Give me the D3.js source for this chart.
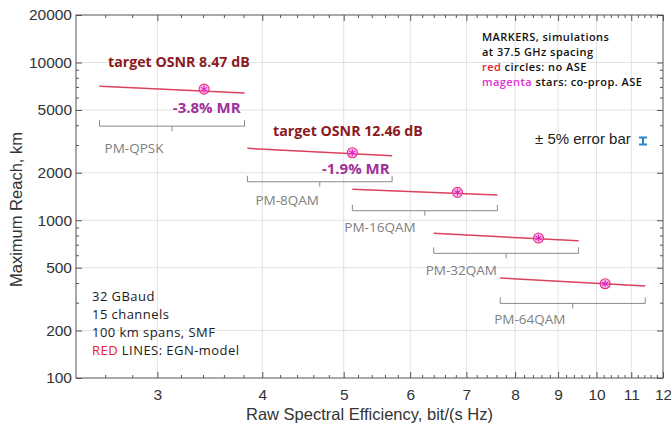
<!DOCTYPE html>
<html><head><meta charset="utf-8">
<script src="https://cdn.jsdelivr.net/npm/d3@7"></script>
<style>body{margin:0;background:#fff}</style>
</head><body><svg id="c" width="671" height="425"></svg>
<script>
// ---- data ----
const formats = ["PM-QPSK","PM-8QAM","PM-16QAM","PM-32QAM","PM-64QAM"];
const seStart = [2.56, 3.84, 5.12, 6.40, 7.68];      // raw SE at 50 GHz spacing
const seEnd = [3.81, 5.71, 7.62, 9.52, 11.43];       // raw SE at 33.6 GHz spacing
const reachStart = [7080, 2855, 1570, 826, 430];     // EGN-model reach, km
const reachEnd = [6400, 2563, 1445, 741, 383];
const seSim = [3.41, 5.12, 6.83, 8.53, 10.24];       // simulations at 37.5 GHz
const reachSim = [6780, 2680, 1503, 771, 396];
const bracketLevel = [3950, 1754, 1149, 617, 297];   // km level of SE-range brackets
const xTickValues = [3,4,5,6,7,8,9,10,11,12];
const yTickValues = [100,200,500,1000,2000,5000,10000,20000];
const osnrLabels = ["target OSNR 8.47 dB", "target OSNR 12.46 dB"];
const osnrAt = [[2.62, 9392], [4.12, 3432]];
const mrLabels = ["-3.8% MR", "-1.9% MR"];
const mrAt = [[3.13, 4757], [4.71, 1954]];

// ---- layout ----
const svg = d3.select("#c");
const L = 76, R = 663, T = 15, B = 378;
const x = d3.scaleLog().domain([2.4, 12]).range([L, R]);
const y = d3.scaleLog().domain([100, 20000]).range([B, T]);

// grid
const g = svg.append("g");
g.selectAll(".vg").data(xTickValues.filter(v => v < 12)).join("line")
  .attr("x1", d => x(d)).attr("x2", d => x(d)).attr("y1", T).attr("y2", B)
  .attr("stroke", "#e2e2e2").attr("stroke-width", 1);
g.selectAll(".hg").data(yTickValues.filter(v => v > 100 && v < 20000)).join("line")
  .attr("y1", d => y(d)).attr("y2", d => y(d)).attr("x1", L).attr("x2", R)
  .attr("stroke", "#e2e2e2").attr("stroke-width", 1);

// minor ticks
const xMinor = d3.range(2.6, 12.0, 0.2).map(v => +v.toFixed(1)).filter(v => !xTickValues.includes(v));
const yMinor = y.ticks().filter(v => !yTickValues.includes(v));

function styleAxis(sel) {
  sel.select(".domain").remove();
  sel.selectAll("line").attr("stroke", "#555");
  sel.selectAll("text").attr("font-family", "Liberation Sans, Arial, sans-serif")
    .attr("font-size", 15.5).attr("fill", "#333");
}
// bottom
svg.append("g").attr("transform", `translate(0,${B})`)
  .call(d3.axisBottom(x).tickValues(xTickValues).tickFormat(d3.format("d")).tickSizeInner(-6).tickSizeOuter(0).tickPadding(11))
  .call(styleAxis);
svg.append("g").attr("transform", `translate(0,${B})`)
  .call(d3.axisBottom(x).tickValues(xMinor).tickFormat("").tickSizeInner(-3).tickSizeOuter(0))
  .call(styleAxis);
// top
svg.append("g").attr("transform", `translate(0,${T})`)
  .call(d3.axisTop(x).tickValues(xTickValues).tickFormat("").tickSizeInner(-6).tickSizeOuter(0))
  .call(styleAxis);
svg.append("g").attr("transform", `translate(0,${T})`)
  .call(d3.axisTop(x).tickValues(xMinor).tickFormat("").tickSizeInner(-3).tickSizeOuter(0))
  .call(styleAxis);
// left
svg.append("g").attr("transform", `translate(${L},0)`)
  .call(d3.axisLeft(y).tickValues(yTickValues).tickFormat(d3.format("d")).tickSizeInner(-6).tickSizeOuter(0).tickPadding(4))
  .call(styleAxis);
svg.append("g").attr("transform", `translate(${L},0)`)
  .call(d3.axisLeft(y).tickValues(yMinor).tickFormat("").tickSizeInner(-3).tickSizeOuter(0))
  .call(styleAxis);
// right
svg.append("g").attr("transform", `translate(${R},0)`)
  .call(d3.axisRight(y).tickValues(yTickValues).tickFormat("").tickSizeInner(-6).tickSizeOuter(0))
  .call(styleAxis);
svg.append("g").attr("transform", `translate(${R},0)`)
  .call(d3.axisRight(y).tickValues(yMinor).tickFormat("").tickSizeInner(-3).tickSizeOuter(0))
  .call(styleAxis);

// frame
svg.append("rect").attr("x", L).attr("y", T).attr("width", R - L).attr("height", B - T)
  .attr("fill", "none").attr("stroke", "#555").attr("stroke-width", 1);

// axis titles
svg.append("text").attr("x", (L + R) / 2).attr("y", 420)
  .attr("text-anchor", "middle").attr("font-family", "Liberation Sans, Arial, sans-serif")
  .attr("font-size", 16.5).attr("fill", "#333").text("Raw Spectral Efficiency, bit/(s Hz)");
svg.append("text").attr("transform", `translate(22,${(T + B) / 2 + 13}) rotate(-90)`)
  .attr("text-anchor", "middle").attr("font-family", "Liberation Sans, Arial, sans-serif")
  .attr("font-size", 16.5).attr("fill", "#333").text("Maximum Reach, km");

// brackets
const br = svg.append("g").attr("stroke", "#8a8a8a").attr("fill", "none").attr("stroke-width", 1);
formats.forEach((f, i) => {
  const x0 = x(seStart[i]), x1 = x(seEnd[i]), yy = y(bracketLevel[i]);
  const xm = x(Math.sqrt(seStart[i] * seEnd[i]));
  br.append("path").attr("d", `M${x0},${yy - 6}V${yy}H${x1}V${yy - 6}M${xm},${yy}V${yy + 5}`);
});
const labDx = [5, 8, -8, -8, -6], labDy = [27, 23, 21.5, 22, 21];
svg.append("g").selectAll("text").data(formats).join("text")
  .attr("x", (d, i) => x(seStart[i]) + labDx[i])
  .attr("y", (d, i) => y(bracketLevel[i]) + labDy[i])
  .attr("font-family", "Open Sans, sans-serif").attr("font-size", 13.5).attr("fill", "#808080")
  .text(d => d);

// EGN model lines
const line = d3.line().x(d => x(d[0])).y(d => y(d[1]));
const linesData = formats.map((f, i) => [[seStart[i], reachStart[i]], [seEnd[i], reachEnd[i]]]);
svg.append("g").selectAll("path").data(linesData).join("path")
  .attr("d", line).attr("fill", "none").attr("stroke", "#f25570").attr("stroke-width", 1.5);
svg.append("g").selectAll("path").data(linesData).join("path")
  .attr("d", line).attr("fill", "none").attr("stroke", "#8a1a30").attr("stroke-width", 0.6).attr("opacity", 0.55);

// simulation markers
const mk = svg.append("g");
formats.forEach((f, i) => {
  const cx = x(seSim[i]), cy = y(reachSim[i]);
  mk.append("circle").attr("cx", cx).attr("cy", cy).attr("r", 5)
    .attr("fill", "#f27ad8").attr("fill-opacity", 0.5).attr("stroke", "#e8307e").attr("stroke-width", 1.1);
  mk.append("path").attr("transform", `translate(${cx},${cy})`)
    .attr("d", d3.symbol(d3.symbolAsterisk, 34)()).attr("stroke", "#e020c8").attr("stroke-width", 1.1).attr("fill", "none");
});

// annotations
svg.append("g").selectAll("text").data(osnrLabels).join("text")
  .attr("x", (d, i) => x(osnrAt[i][0])).attr("y", (d, i) => y(osnrAt[i][1]))
  .attr("font-family", "Open Sans, sans-serif").attr("font-weight", "bold").attr("font-size", 14.2)
  .attr("fill", "#8b1a1f").text(d => d);
svg.append("g").selectAll("text").data(mrLabels).join("text")
  .attr("x", (d, i) => x(mrAt[i][0])).attr("y", (d, i) => y(mrAt[i][1]))
  .attr("font-family", "Open Sans, sans-serif").attr("font-weight", "bold").attr("font-size", 15)
  .attr("fill", "#a0309c").text(d => d);

// legend (top right)
const leg = svg.append("g").attr("font-family", "Open Sans, sans-serif").attr("font-size", 11)
  .attr("font-weight", 600).attr("letter-spacing", 0.45).attr("fill", "#111");
leg.append("text").attr("x", 482).attr("y", 41).text("MARKERS, simulations");
leg.append("text").attr("x", 482).attr("y", 56).text("at 37.5 GHz spacing");
const l3 = leg.append("text").attr("x", 482).attr("y", 71);
l3.append("tspan").attr("fill", "#e8202a").text("red");
l3.append("tspan").text(" circles: no ASE");
const l4 = leg.append("text").attr("x", 482).attr("y", 86);
l4.append("tspan").attr("fill", "#e030d0").text("magenta");
l4.append("tspan").text(" stars: co-prop. ASE");

// error bar legend
svg.append("text").attr("x", 535).attr("y", 143.5).attr("font-family", "Liberation Sans, Arial, sans-serif")
  .attr("font-size", 15).attr("fill", "#222").text("\u00b1 5% error bar");
svg.append("path").attr("d", "M639,137.5H647M643,137.5V144.5M639,144.5H647")
  .attr("stroke", "#2a86c8").attr("stroke-width", 2).attr("fill", "none");

// bottom-left info
const info = svg.append("g").attr("font-family", "Open Sans, sans-serif").attr("font-size", 13)
  .attr("font-weight", 500).attr("letter-spacing", 0.45).attr("fill", "#1a1a1a");
info.append("text").attr("x", 92).attr("y", 301).text("32 GBaud");
info.append("text").attr("x", 92).attr("y", 319).text("15 channels");
info.append("text").attr("x", 92).attr("y", 337).text("100 km spans, SMF");
const i4 = info.append("text").attr("x", 92).attr("y", 354.5);
i4.append("tspan").attr("fill", "#e8202a").text("RED");
i4.append("tspan").text(" LINES: EGN-model");
</script></body></html>
